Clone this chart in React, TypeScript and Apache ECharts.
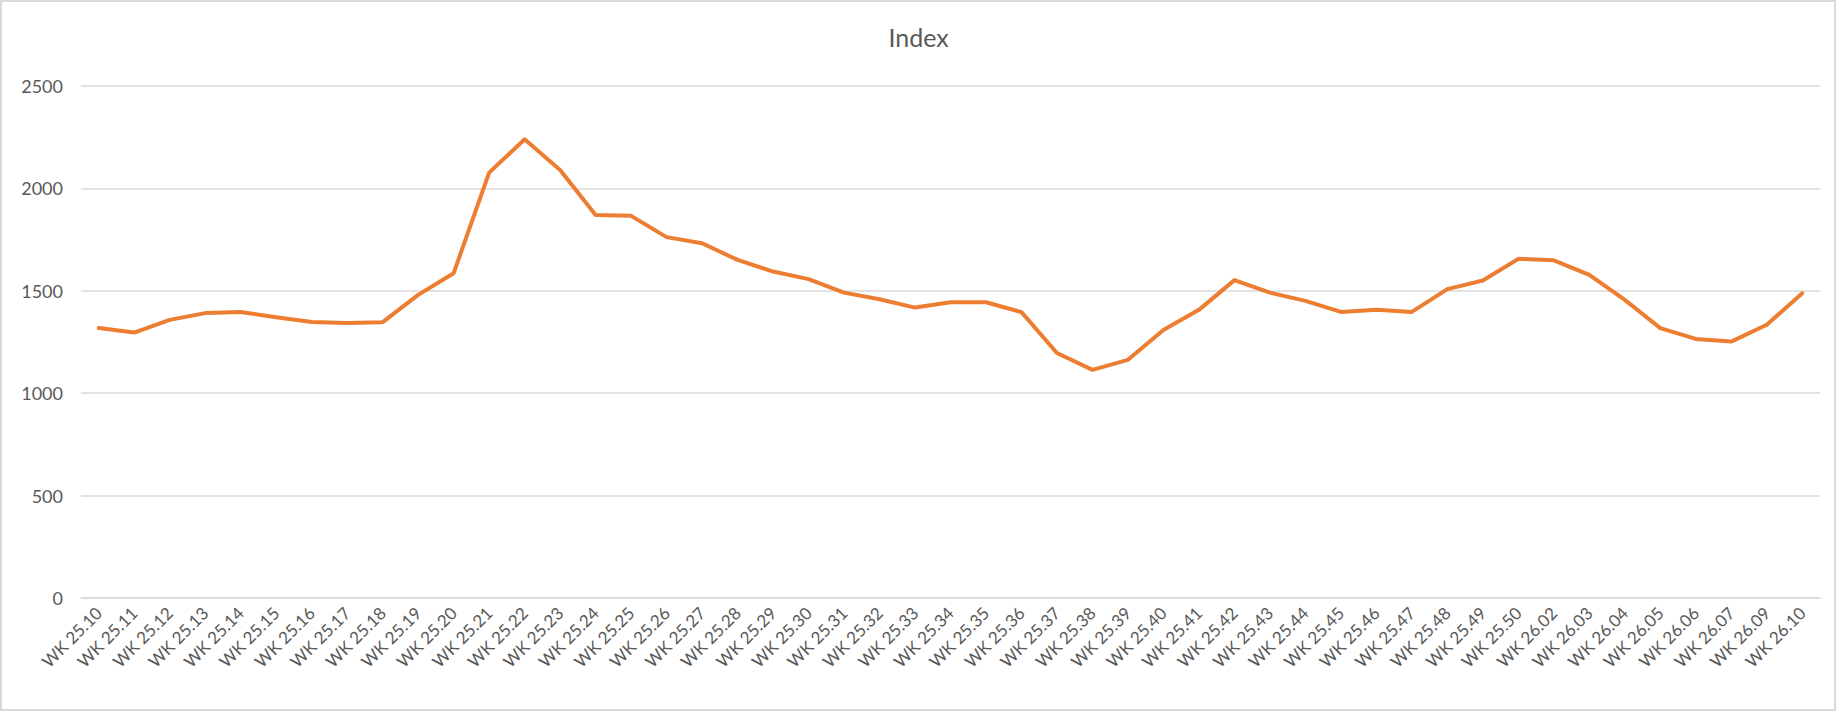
import React, { useEffect, useRef } from "react";
import * as echarts from "echarts";

const weeks: string[] = [
  "WK 25.10", "WK 25.11", "WK 25.12", "WK 25.13", "WK 25.14", "WK 25.15", "WK 25.16",
  "WK 25.17", "WK 25.18", "WK 25.19", "WK 25.20", "WK 25.21", "WK 25.22", "WK 25.23",
  "WK 25.24", "WK 25.25", "WK 25.26", "WK 25.27", "WK 25.28", "WK 25.29", "WK 25.30",
  "WK 25.31", "WK 25.32", "WK 25.33", "WK 25.34", "WK 25.35", "WK 25.36", "WK 25.37",
  "WK 25.38", "WK 25.39", "WK 25.40", "WK 25.41", "WK 25.42", "WK 25.43", "WK 25.44",
  "WK 25.45", "WK 25.46", "WK 25.47", "WK 25.48", "WK 25.49", "WK 25.50", "WK 26.02",
  "WK 26.03", "WK 26.04", "WK 26.05", "WK 26.06", "WK 26.07", "WK 26.09", "WK 26.10",
];

const indexValues: number[] = [
  1318, 1296, 1358, 1391, 1396, 1371, 1348, 1343, 1347, 1480,
  1586, 2077, 2240, 2090, 1870, 1866, 1762, 1732, 1651, 1594,
  1557, 1491, 1459, 1418, 1444, 1444, 1396, 1196, 1114, 1163,
  1309, 1407, 1552, 1491, 1451, 1397, 1407, 1397, 1508, 1550,
  1656, 1649, 1578, 1456, 1318, 1265, 1252, 1334, 1488,
];

const yTicks = { min: 0, max: 2500, interval: 500 };

export default function App() {
  const ref = useRef<HTMLDivElement>(null);

  useEffect(() => {
    document.body.style.margin = "0";
    if (!ref.current) return;
    const chart = echarts.init(ref.current, null, { renderer: "svg" });
    const font = "Lato, 'Open Sans', sans-serif";
    chart.setOption({
      animation: false,
      backgroundColor: "#ffffff",
      textStyle: { fontFamily: font },
      title: {
        text: "Index",
        left: "center",
        top: 19,
        textStyle: { color: "#595959", fontSize: 25, fontWeight: "normal", fontFamily: font },
      },
      graphic: [
        {
          type: "rect",
          shape: { x: 1, y: 1, width: 1834, height: 709 },
          style: { fill: "none", stroke: "#D9D9D9", lineWidth: 2 },
          silent: true,
        },
      ],
      grid: { left: 81, right: 17, top: 86, bottom: 114, containLabel: false },
      xAxis: {
        type: "category",
        data: weeks,
        boundaryGap: true,
        axisLine: { show: true, lineStyle: { color: "#D9D9D9", width: 1.5 } },
        axisTick: { show: false },
        axisLabel: {
          rotate: 45,
          interval: 0,
          color: "#595959",
          fontSize: 17,
          margin: 12,
          fontFamily: font,
        },
      },
      yAxis: {
        type: "value",
        min: yTicks.min,
        max: yTicks.max,
        interval: yTicks.interval,
        axisLine: { show: false },
        axisTick: { show: false },
        axisLabel: {
          color: "#595959",
          fontSize: 18,
          margin: 18,
          fontFamily: font,
          formatter: (v: number) => String(v),
        },
        splitLine: { show: true, lineStyle: { color: "#D9D9D9", width: 1.5 } },
      },
      series: [
        {
          type: "line",
          name: "Index",
          data: indexValues,
          showSymbol: false,
          symbol: "none",
          lineStyle: { color: "#ED7D31", width: 4, cap: "round", join: "round" },
          itemStyle: { color: "#ED7D31" },
        },
      ],
    });
    return () => chart.dispose();
  }, []);

  return <div ref={ref} style={{ width: 1837, height: 712 }} />;
}
